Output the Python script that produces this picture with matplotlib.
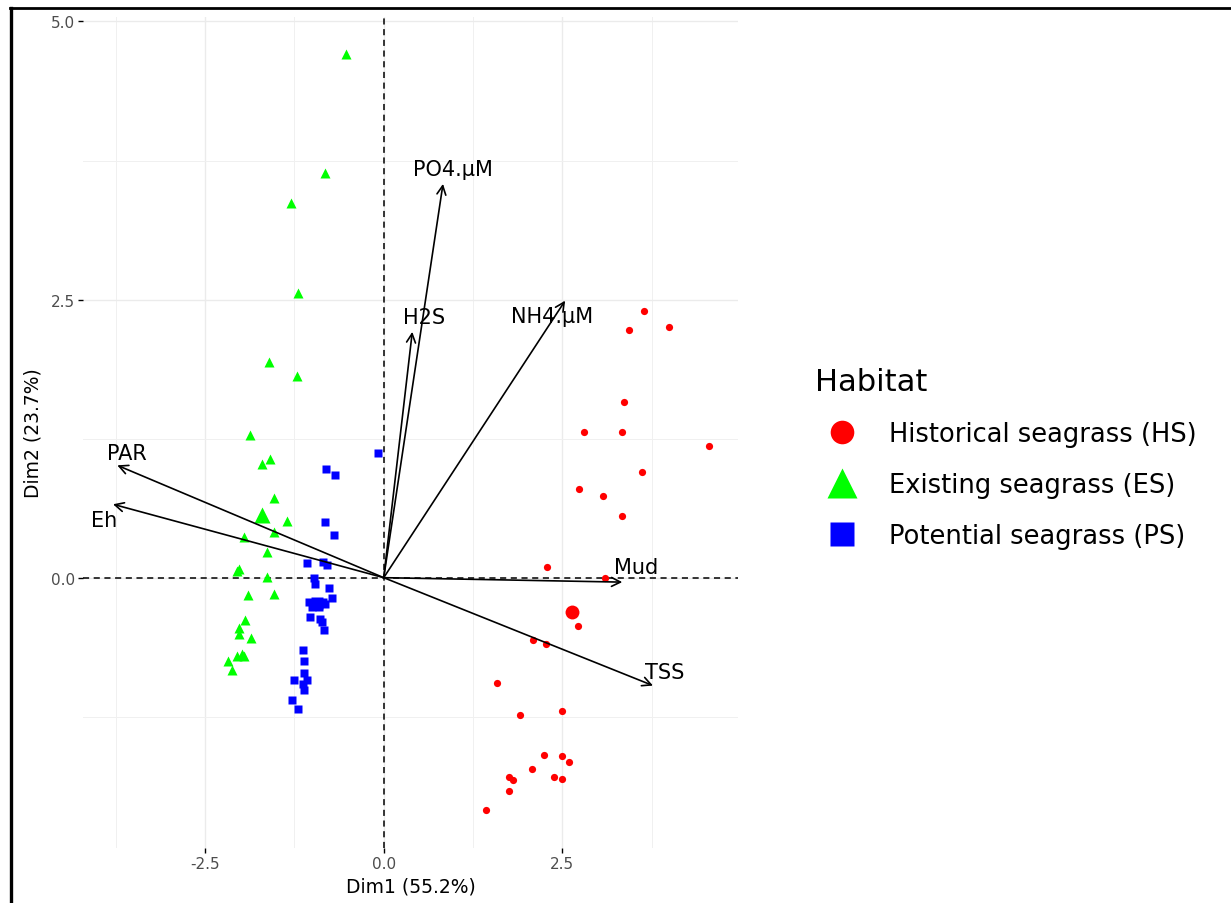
import matplotlib
matplotlib.use("Agg")
import matplotlib.pyplot as plt
from matplotlib.lines import Line2D
from matplotlib.ticker import MultipleLocator, FormatStrFormatter

plt.rcParams['font.family'] = ['DejaVu Sans']
plt.rcParams['axes.unicode_minus'] = False

# ---- data ----
hs_x = [3.64, 3.44, 3.99, 3.37, 2.81, 3.34, 4.55, 3.61, 2.73, 3.07, 3.33, 2.28, 3.10,
        2.72, 2.09, 2.27, 1.59, 1.91, 2.49, 2.25, 2.50, 2.60, 2.08, 1.75, 1.81, 2.39,
        2.49, 1.76, 1.43]
hs_y = [2.40, 2.23, 2.25, 1.58, 1.31, 1.31, 1.18, 0.95, 0.80, 0.73, 0.55, 0.10, 0.00,
        -0.43, -0.56, -0.60, -0.95, -1.23, -1.20, -1.59, -1.60, -1.66, -1.72, -1.79,
        -1.82, -1.79, -1.81, -1.92, -2.09]
es_x = [-0.53, -0.82, -1.30, -1.20, -1.60, -1.21, -1.87, -1.59, -1.70, -1.53, -1.35,
        -1.53, -1.95, -1.63, -2.05, -2.03, -1.63, -1.90, -1.53, -1.94, -2.02, -2.02,
        -1.86, -2.18, -2.05, -1.99, -1.95, -2.12]
es_y = [4.71, 3.64, 3.37, 2.56, 1.94, 1.81, 1.28, 1.07, 1.02, 0.72, 0.51, 0.41, 0.37,
        0.23, 0.06, 0.08, 0.01, -0.16, -0.15, -0.38, -0.45, -0.51, -0.54, -0.75, -0.70,
        -0.69, -0.70, -0.83]
ps_x = [-0.08, -0.81, -0.68, -0.82, -0.69, -1.07, -0.85, -0.79, -0.97, -0.96, -0.76,
        -0.73, -1.05, -0.95, -0.85, -1.00, -0.90, -0.82, -1.03, -0.89, -0.86, -0.84,
        -1.13, -1.12, -1.11, -1.25, -1.07, -1.13, -1.12, -1.28, -1.20]
ps_y = [1.12, 0.98, 0.92, 0.50, 0.38, 0.13, 0.14, 0.11, 0.00, -0.06, -0.09, -0.18,
        -0.22, -0.22, -0.22, -0.26, -0.26, -0.24, -0.35, -0.37, -0.40, -0.47, -0.65,
        -0.75, -0.86, -0.92, -0.92, -0.96, -1.01, -1.10, -1.18]
mean_hs = (2.64, -0.31)
mean_es = (-1.70, 0.56)
mean_ps = (-0.93, -0.23)

var_names = ['PO4.µM', 'H2S', 'NH4.µM', 'Mud', 'TSS', 'PAR', 'Eh']
var_x = [0.83, 0.40, 2.54, 3.34, 3.77, -3.73, -3.79]
var_y = [3.54, 2.21, 2.49, -0.04, -0.97, 1.01, 0.66]
lab_x = [0.97, 0.56, 2.36, 3.53, 3.94, -3.60, -3.91]
lab_y = [3.67, 2.34, 2.35, 0.10, -0.85, 1.12, 0.52]

legend_labels = ['Historical seagrass (HS)', 'Existing seagrass (ES)', 'Potential seagrass (PS)']
colors = ['#FF0000', '#00FF00', '#0000FF']

# ---- figure ----
W, H = 1231, 904
fig = plt.figure(figsize=(W / 100, H / 100), dpi=100)
ax = fig.add_axes([83 / W, 1 - 849 / H, (738 - 83) / W, (849 - 18) / H])

ax.set_xlim(-4.21, 4.96)
ax.set_ylim(-2.43, 5.04)
for s in ax.spines.values():
    s.set_visible(False)

ax.xaxis.set_major_locator(MultipleLocator(2.5))
ax.yaxis.set_major_locator(MultipleLocator(2.5))
ax.xaxis.set_minor_locator(MultipleLocator(1.25))
ax.yaxis.set_minor_locator(MultipleLocator(1.25))
ax.xaxis.set_major_formatter(FormatStrFormatter('%.1f'))
ax.yaxis.set_major_formatter(FormatStrFormatter('%.1f'))
ax.grid(which='major', color='#EBEBEB', lw=1.0, zorder=0)
ax.grid(which='minor', color='#F0F0F0', lw=0.7, zorder=0)
ax.set_axisbelow(True)
ax.tick_params(which='major', length=3.5, width=1.0, color='black',
               labelsize=11, labelcolor='#4D4D4D', pad=2.5)
ax.tick_params(which='minor', length=0)

ax.axhline(0, color='black', lw=1.1, ls=(0, (4, 3)), zorder=1)
ax.axvline(0, color='black', lw=1.1, ls=(0, (4, 3)), zorder=1)

ax.plot(hs_x, hs_y, ls='none', marker='o', ms=5.2, color=colors[0], mec='none', zorder=3)
ax.plot(es_x, es_y, ls='none', marker='^', ms=6.5, color=colors[1], mec='none', zorder=3)
ax.plot(ps_x, ps_y, ls='none', marker='s', ms=5.3, color=colors[2], mec='none', zorder=3)
ax.plot([mean_hs[0]], [mean_hs[1]], ls='none', marker='o', ms=10, color=colors[0], mec='none', zorder=3)
ax.plot([mean_es[0]], [mean_es[1]], ls='none', marker='^', ms=12, color=colors[1], mec='none', zorder=3)
ax.plot([mean_ps[0]], [mean_ps[1]], ls='none', marker='s', ms=9, color=colors[2], mec='none', zorder=3)

for name, vx, vy, lx, ly in zip(var_names, var_x, var_y, lab_x, lab_y):
    ax.annotate('', xy=(vx, vy), xytext=(0, 0),
                arrowprops=dict(arrowstyle='->', color='black', lw=1.2,
                                mutation_scale=16, shrinkA=0, shrinkB=0), zorder=4)
    ax.text(lx, ly, name, ha='center', va='center', fontsize=15, color='black', zorder=5)

ax.set_xlabel('Dim1 (55.2%)', fontsize=13.5, labelpad=4)
ax.set_ylabel('Dim2 (23.7%)', fontsize=13.5, labelpad=6)

handles = [
    Line2D([], [], ls='none', marker='o', ms=17, color=colors[0], mec='none'),
    Line2D([], [], ls='none', marker='^', ms=21, color=colors[1], mec='none'),
    Line2D([], [], ls='none', marker='s', ms=17, color=colors[2], mec='none'),
]
leg = fig.legend(handles, legend_labels, loc='upper left',
                 bbox_to_anchor=(815 / W, 1 - 368 / H), frameon=False,
                 title='Habitat', title_fontsize=22, fontsize=18.5,
                 alignment='left', borderpad=0, borderaxespad=0,
                 handlelength=2.1, handletextpad=0.78, labelspacing=0.98,
                 numpoints=1)
leg._legend_box.sep = 18

# figure border (top and left)
fig.add_artist(Line2D([10 / W, 1.0], [1 - 8.5 / H, 1 - 8.5 / H], color='black', lw=2.0,
                      transform=fig.transFigure))
fig.add_artist(Line2D([10.5 / W, 10.5 / W], [0, 1 - 8.5 / H], color='black', lw=2.4,
                      transform=fig.transFigure))

fig.savefig('out.png', dpi=100, facecolor='white')
